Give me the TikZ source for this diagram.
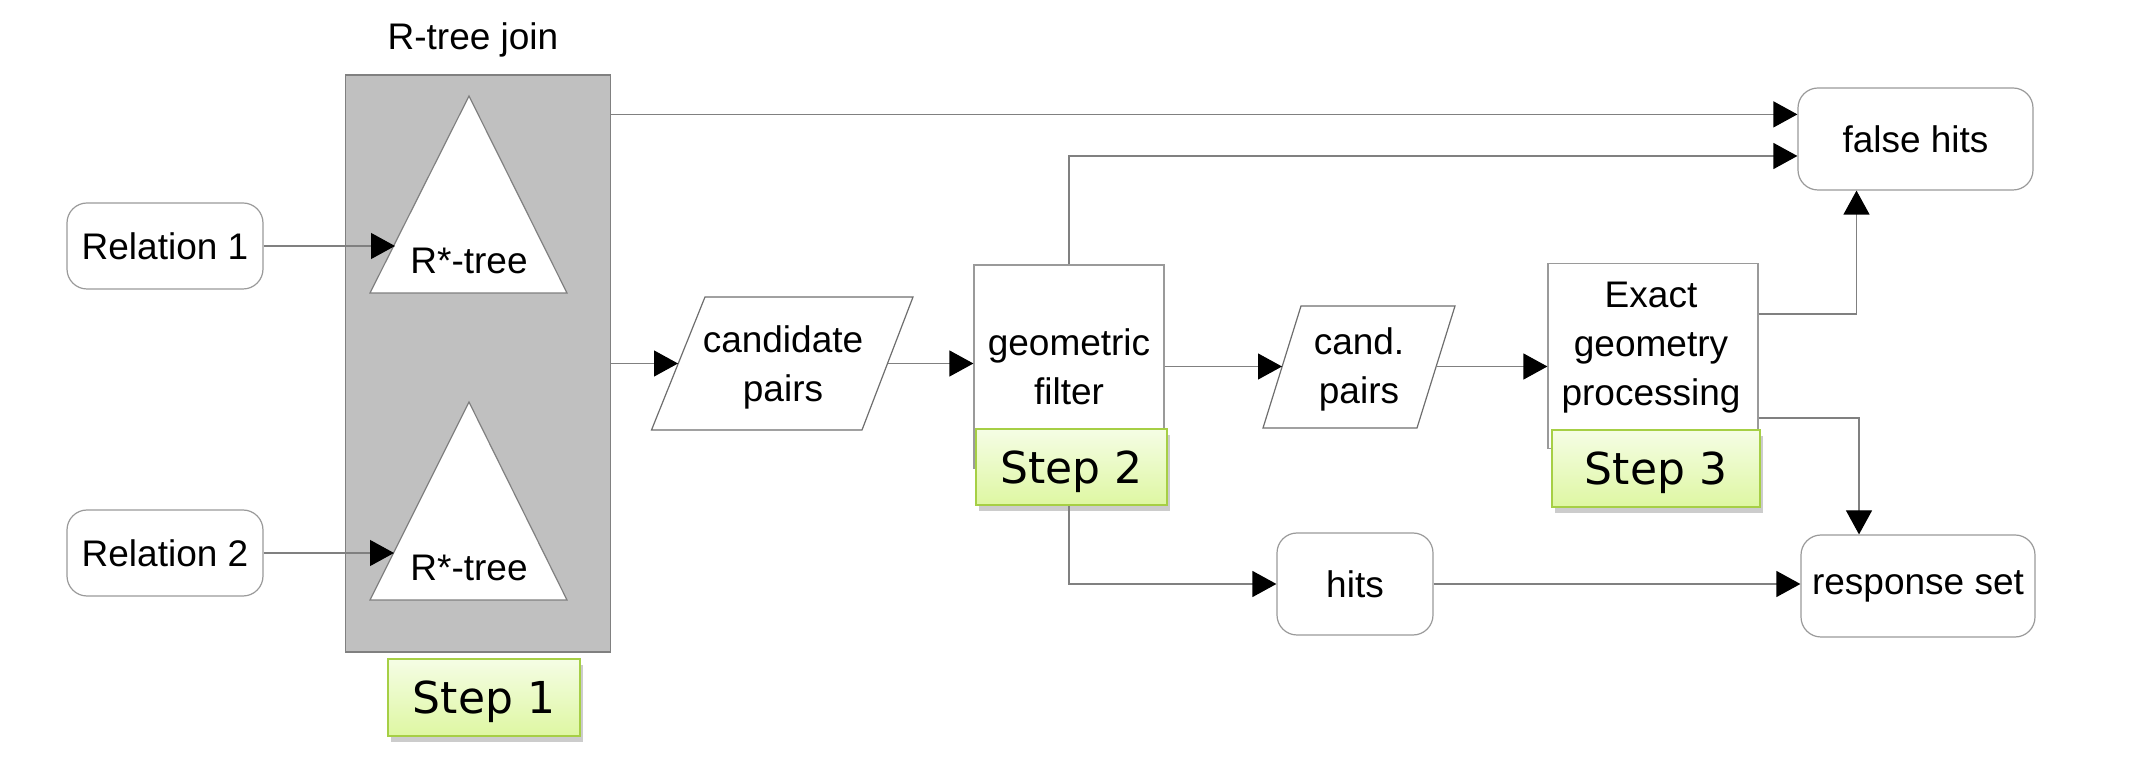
\documentclass[tikz,border=0pt]{standalone}
\usepackage{fontspec}
\setmainfont{Liberation Sans}
\newfontfamily\stepfont{DejaVu Sans}
\usetikzlibrary{arrows.meta,shadows,calc}
\definecolor{ln}{HTML}{808080}
\definecolor{bd}{HTML}{9A9A9A}
\definecolor{pbd}{HTML}{6E6E6E}
\definecolor{stepbd}{HTML}{A6CF45}
\definecolor{steptop}{HTML}{F5FDE5}
\definecolor{stepbot}{HTML}{DEF7A2}
\definecolor{joinfill}{HTML}{C0C0C0}
\begin{document}
\begin{tikzpicture}[x=0.5pt,y=-0.5pt,
  every node/.style={font=\fontsize{18.5}{24.5}\selectfont, inner sep=0pt},
  conn/.style={draw=ln, line width=0.6pt, -{Triangle[length=12pt,width=13pt,black]}},
  rbox/.style={draw=bd, rounded corners=10pt, fill=white, line width=0.6pt, align=center},
  pbox/.style={draw=bd, fill=white, line width=0.6pt, align=center},
  para/.style={draw=pbd, fill=white, line width=0.6pt},
  stepbox/.style={draw=stepbd, line width=1pt, top color=steptop, bottom color=stepbot,
    drop shadow={shadow xshift=1.5pt, shadow yshift=-3pt, opacity=0.4},
    text depth=0pt, font=\stepfont\fontsize{22}{26}\selectfont}
]
\useasboundingbox (0,0) rectangle (2148,758);

% R-tree join block
\node[draw=ln, fill=joinfill, line width=0.6pt, minimum width=132.25pt, minimum height=288.5pt] (join) at (478,363.5) {};
\node[anchor=base] (rjoin) at (473,50) {R-tree join};
\draw[draw=ln, fill=white, line width=0.6pt] (469,96) -- (567,293) -- (370,293) -- cycle;
\draw[draw=ln, fill=white, line width=0.6pt] (469,402) -- (567,600) -- (370,600) -- cycle;
\node[anchor=base] (rt1) at (469,274) {R*-tree};
\node[anchor=base] (rt2) at (469,581) {R*-tree};
\coordinate (tri1w) at (395,246);
\coordinate (tri2w) at (394,553);

% relations
\node[rbox, minimum width=98pt, minimum height=43pt] (rel1) at (165,246) {Relation 1};
\node[rbox, minimum width=98pt, minimum height=43pt] (rel2) at (165,553) {Relation 2};

% candidate pairs
\draw[para] (705,297) -- (913,297) -- (862,430) -- (651.5,430) -- cycle;
\node[align=center] (cand) at (783,367) {candidate\\pairs};
\coordinate (candW) at (678,363.5);
\coordinate (candE) at (887.5,363.5);

% geometric filter
\node[pbox, minimum width=95pt, minimum height=101.5pt] (geo) at (1069,366.5) {geometric\\filter};

% cand. pairs
\draw[para] (1301,306) -- (1455,306) -- (1417,428) -- (1263,428) -- cycle;
\node[align=center] (cand2) at (1359,369) {cand.\\pairs};
\coordinate (cand2W) at (1282,366.5);
\coordinate (cand2E) at (1436,366.5);

% exact geometry
\node[pbox, minimum width=105pt, minimum height=92.25pt] (exact) at (1653,356) {};
\node[align=center] (exacttxt) at (1651,348) {Exact\\geometry\\processing};

% outputs
\node[rbox, minimum width=117.5pt, minimum height=51pt] (false) at (1915.5,139) {false hits};
\node[rbox, minimum width=117pt, minimum height=51pt] (resp) at (1918,586) {response set};
\node[rbox, minimum width=78pt, minimum height=51pt] (hits) at (1355,584) {hits};

% connectors
\draw[conn] (rel1) -- (tri1w);
\draw[conn] (rel2) -- (tri2w);
\draw[conn] (join.east) -- (candW);
\draw[conn] (candE) -- (candE -| geo.west);
\draw[conn] (geo.east) -- (cand2W);
\draw[conn] (cand2E) -- (cand2E -| exact.west);
\draw[conn] ([yshift=-20pt]join.north east) -- ([yshift=-20pt]join.north east -| false.west);
\draw[conn] (geo.north) |- ([yshift=-8.5pt]false.west);
\draw[conn] ([yshift=21pt]exact.east) -| ([xshift=-29.5pt]false.south);
\draw[conn] ([yshift=-31pt]exact.east) -| ([xshift=-29.5pt]resp.north);
\draw[conn] (geo.south) |- (hits.west);
\draw[conn] (hits.east) -- (hits.east -| resp.west);

% steps
\node[stepbox, minimum width=96.25pt, minimum height=38.5pt] (s1) at (484,697.5) {Step 1};
\node[stepbox, minimum width=95.5pt, minimum height=38pt] (s2) at (1071.5,467) {Step 2};
\node[stepbox, minimum width=104pt, minimum height=38.5pt] (s3) at (1656,468.5) {Step 3\hspace{9pt}};
\end{tikzpicture}
\end{document}
